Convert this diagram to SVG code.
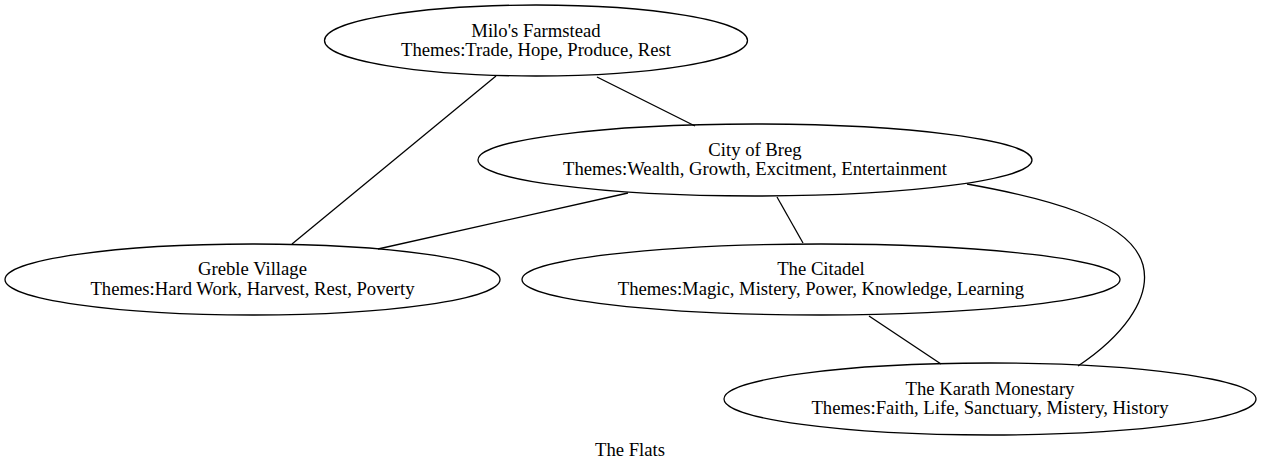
<svg xmlns="http://www.w3.org/2000/svg" width="1261" height="472" viewBox="0 0 1261 472">
<style>
ellipse{fill:none;stroke:#000;stroke-width:1.3}
path{fill:none;stroke:#000;stroke-width:1.3}
text{font-size:18.67px;text-anchor:middle;fill:#000}
</style>
<rect width="1261" height="472" fill="#fff"/>
<g id="edges">
<path d="M496,76 L292,244"/>
<path d="M597,77 L695,126"/>
<path d="M628,193 L378,249"/>
<path d="M777,197 L803,243"/>
<path d="M869,316 L941,364"/>
<path d="M967,184 C1040,197 1130,218 1143,265 C1152,300 1120,338 1078,366"/>
</g>
<g font-family="'Liberation Serif', 'Times New Roman', serif">
<g id="milo">
<ellipse cx="536" cy="40.5" rx="211.5" ry="35.5"/>
<text x="536" y="36.5">Milo's Farmstead</text>
<text x="536" y="55.5">Themes:Trade, Hope, Produce, Rest</text>
</g>
<g id="breg">
<ellipse cx="755" cy="160" rx="277" ry="36"/>
<text x="755" y="155.5">City of Breg</text>
<text x="755" y="175">Themes:Wealth, Growth, Excitment, Entertainment</text>
</g>
<g id="greble">
<ellipse cx="252.5" cy="279.5" rx="247.5" ry="35.5"/>
<text x="252.5" y="275">Greble Village</text>
<text x="252.5" y="294.5">Themes:Hard Work, Harvest, Rest, Poverty</text>
</g>
<g id="citadel">
<ellipse cx="821" cy="279.5" rx="299" ry="35.5"/>
<text x="821" y="275">The Citadel</text>
<text x="821" y="294.5">Themes:Magic, Mistery, Power, Knowledge, Learning</text>
</g>
<g id="karath">
<ellipse cx="990" cy="399" rx="266" ry="36"/>
<text x="990" y="394.5">The Karath Monestary</text>
<text x="990" y="414">Themes:Faith, Life, Sanctuary, Mistery, History</text>
</g>
<text x="630" y="456">The Flats</text>
</g>
</svg>
